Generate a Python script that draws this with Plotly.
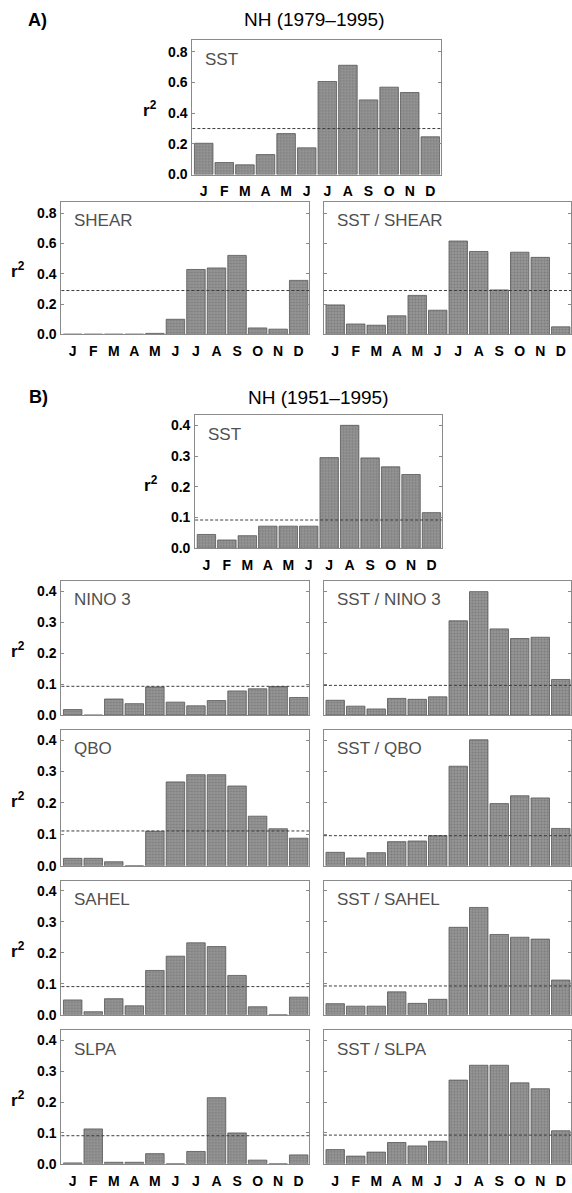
import plotly.graph_objects as go

W, H = 572, 1193

months = ["J", "F", "M", "A", "M", "J", "J", "A", "S", "O", "N", "D"]

# ---- A) NH (1979-1995) ----
a_sst = [0.204, 0.078, 0.063, 0.130, 0.267, 0.174, 0.607, 0.713, 0.487, 0.570, 0.535, 0.246]
a_shear = [0.002, 0.002, 0.002, 0.002, 0.007, 0.100, 0.429, 0.439, 0.522, 0.043, 0.035, 0.357]
a_sst_shear = [0.195, 0.069, 0.061, 0.123, 0.258, 0.160, 0.617, 0.548, 0.294, 0.543, 0.509, 0.050]
a_thr = [0.300, 0.290, 0.290]

# ---- B) NH (1951-1995) ----
b_sst = [0.045, 0.027, 0.041, 0.072, 0.072, 0.072, 0.295, 0.400, 0.294, 0.265, 0.240, 0.116]
b_nino3 = [0.018, 0.000, 0.052, 0.037, 0.091, 0.042, 0.030, 0.047, 0.078, 0.085, 0.092, 0.057]
b_sst_nino3 = [0.048, 0.029, 0.020, 0.054, 0.051, 0.059, 0.304, 0.398, 0.278, 0.247, 0.251, 0.115]
b_qbo = [0.024, 0.024, 0.013, 0.000, 0.110, 0.267, 0.290, 0.290, 0.254, 0.158, 0.118, 0.088]
b_sst_qbo = [0.043, 0.025, 0.042, 0.077, 0.079, 0.096, 0.317, 0.401, 0.198, 0.223, 0.216, 0.119]
b_sahel = [0.048, 0.010, 0.052, 0.029, 0.143, 0.189, 0.232, 0.220, 0.127, 0.026, 0.000, 0.057]
b_sst_sahel = [0.036, 0.028, 0.028, 0.074, 0.037, 0.050, 0.282, 0.346, 0.259, 0.250, 0.244, 0.112]
b_slpa = [0.003, 0.113, 0.005, 0.005, 0.033, 0.000, 0.040, 0.214, 0.100, 0.012, 0.000, 0.029]
b_sst_slpa = [0.046, 0.025, 0.038, 0.069, 0.058, 0.073, 0.271, 0.319, 0.319, 0.262, 0.243, 0.107]
b_thr = [0.092, 0.093, 0.096, 0.111, 0.096, 0.091, 0.093, 0.091, 0.093]

a_ticks = [0.0, 0.2, 0.4, 0.6, 0.8]
a_ticktext = ["0.0", "0.2", "0.4", "0.6", "0.8"]
b_ticks = [0.0, 0.1, 0.2, 0.3, 0.4]
b_ticktext = ["0.0", "0.1", "0.2", "0.3", "0.4"]

A_MAX = 0.875
B_MAX = 0.432

# panel layout: (label, values, threshold, x0, x1, top, bottom, ymax, ticks, ticktext, show_x, show_y, r2x)
LX0, LX1, RX0, RX1 = 61.5, 309.5, 324.5, 572
panels = [
    ("SST", a_sst, a_thr[0], 192.7, 441.4, 40.7, 175.7, A_MAX, a_ticks, a_ticktext, True, True, 150),
    ("SHEAR", a_shear, a_thr[1], LX0, LX1, 203.3, 336.7, A_MAX, a_ticks, a_ticktext, True, True, 18),
    ("SST / SHEAR", a_sst_shear, a_thr[2], RX0, RX1, 203.3, 336.7, A_MAX, a_ticks, a_ticktext, True, False, None),
    ("SST", b_sst, b_thr[0], 195.5, 442.5, 418.3, 552.0, B_MAX, b_ticks, b_ticktext, True, True, 151),
]
b_rows = [
    ("NINO 3", b_nino3, "SST / NINO 3", b_sst_nino3, 585.0, 720.0, False),
    ("QBO", b_qbo, "SST / QBO", b_sst_qbo, 735.0, 871.7, False),
    ("SAHEL", b_sahel, "SST / SAHEL", b_sst_sahel, 886.7, 1021.7, False),
    ("SLPA", b_slpa, "SST / SLPA", b_sst_slpa, 1037.3, 1171.7, True),
]
for k, (ln, lv, rn, rv, top, bot, showx) in enumerate(b_rows):
    panels.append((ln, lv, b_thr[1 + 2 * k], LX0, LX1, top, bot, B_MAX, b_ticks, b_ticktext, showx, True, 18))
    panels.append((rn, rv, b_thr[2 + 2 * k], RX0, RX1, top, bot, B_MAX, b_ticks, b_ticktext, showx, False, None))

FONT = "Liberation Sans, Arial, Helvetica, sans-serif"
fig = go.Figure()
layout = dict(
    width=W, height=H, margin=dict(l=0, r=0, t=0, b=0),
    paper_bgcolor="white", plot_bgcolor="white", showlegend=False,
    font=dict(family=FONT, color="black", size=14),
    bargap=0.1,
)
shapes = []
annotations = []

for i, (label, vals, thr, x0, x1, top, bot, ymax, ticks, ticktext, show_x, show_y, r2x) in enumerate(panels, start=1):
    xa = "x" if i == 1 else f"x{i}"
    ya = "y" if i == 1 else f"y{i}"
    fig.add_trace(go.Bar(
        x=list(range(12)), y=vals, xaxis=xa, yaxis=ya,
        marker=dict(color="#8a8a8a", line=dict(color="#555555", width=0.8),
                    pattern=dict(shape=".", fgcolor="#606060", bgcolor="#979797", size=3, solidity=0.4)),
        hoverinfo="skip",
    ))
    xkey = "xaxis" if i == 1 else f"xaxis{i}"
    ykey = "yaxis" if i == 1 else f"yaxis{i}"
    layout[xkey] = dict(
        domain=[x0 / W, min(x1 / W, 1.0)], anchor=ya, range=[-0.55, 11.5],
        tickmode="array", tickvals=list(range(12)), ticktext=months,
        showticklabels=show_x, ticks="", showgrid=False, zeroline=False,
        showline=True, linecolor="#8a8a8a", linewidth=1, mirror=True,
        tickfont=dict(size=14, family=FONT, color="black", weight="bold"),
        ticklabelstandoff=4, fixedrange=True,
    )
    layout[ykey] = dict(
        domain=[1 - bot / H, 1 - top / H], anchor=xa, range=[0, ymax],
        tickmode="array", tickvals=ticks, ticktext=ticktext,
        showticklabels=show_y, ticks="inside", ticklen=3, tickcolor="#8a8a8a",
        showgrid=False, zeroline=False,
        showline=True, linecolor="#8a8a8a", linewidth=1, mirror="ticks",
        tickfont=dict(size=14, family=FONT, color="black", weight="bold"),
        ticklabelstandoff=1, fixedrange=True,
    )
    shapes.append(dict(type="line", xref=f"{xa} domain", yref=ya, x0=0, x1=1, y0=thr, y1=thr,
                       line=dict(color="#3c3c3c", width=1, dash="3px,2px"), layer="above"))
    annotations.append(dict(text=label, xref="paper", yref="paper", x=(x0 + 11) / W, y=1 - (top + 19) / H,
                            xanchor="left", yanchor="middle", showarrow=False,
                            font=dict(size=17, family=FONT, color="#505050")))
    if r2x is not None:
        annotations.append(dict(text="r<sup>2</sup>", xref="paper", yref="paper", x=r2x / W,
                                y=1 - ((top + bot) / 2 + 2) / H, xanchor="center", yanchor="middle",
                                showarrow=False, font=dict(size=17, family=FONT, color="black", weight="bold")))

# titles and section labels
annotations += [
    dict(text="A)", xref="paper", yref="paper", x=26 / W, y=1 - 20 / H, xanchor="left", yanchor="middle",
         showarrow=False, font=dict(size=18, family=FONT, color="black", weight="bold")),
    dict(text="NH (1979–1995)", xref="paper", yref="paper", x=315 / W, y=1 - 20 / H, xanchor="center",
         yanchor="middle", showarrow=False, font=dict(size=19, family=FONT, color="black")),
    dict(text="B)", xref="paper", yref="paper", x=27 / W, y=1 - 400 / H, xanchor="left", yanchor="middle",
         showarrow=False, font=dict(size=18, family=FONT, color="black", weight="bold")),
    dict(text="NH (1951–1995)", xref="paper", yref="paper", x=319 / W, y=1 - 400 / H, xanchor="center",
         yanchor="middle", showarrow=False, font=dict(size=19, family=FONT, color="black")),
]

layout["shapes"] = shapes
layout["annotations"] = annotations
fig.update_layout(**layout)
fig.write_html(
    "out.html",
    config={"displayModeBar": False, "staticPlot": True},
    post_script="document.body.style.margin='0';document.body.style.overflow='hidden';",
)
